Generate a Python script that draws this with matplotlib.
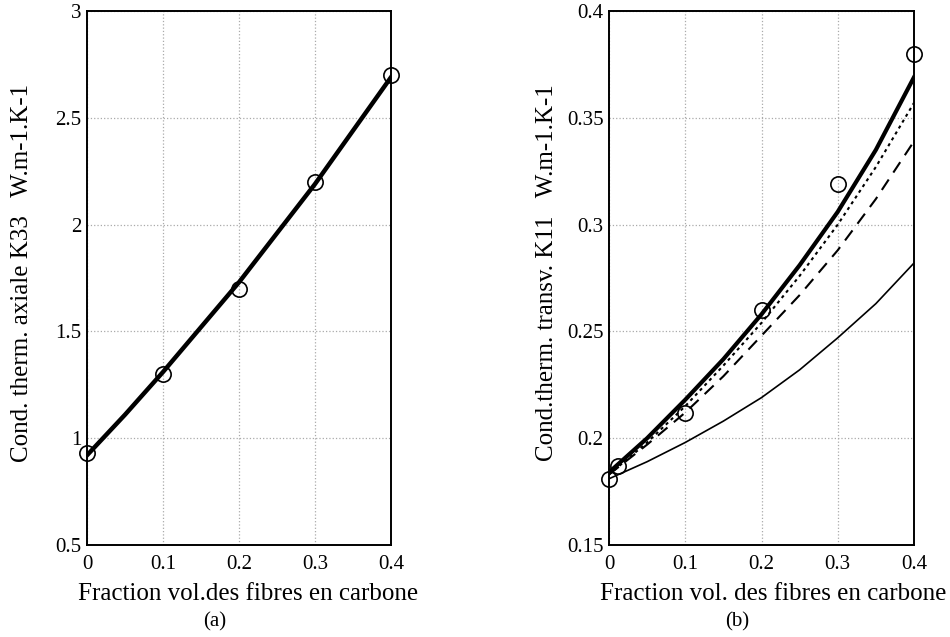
import numpy as np
import matplotlib.pyplot as plt

plt.rcParams['font.family'] = ['Liberation Serif', 'DejaVu Serif']

# panel (a): axial conductivity K33
xa_pts = [0.0, 0.1, 0.2, 0.3, 0.4]
ya_pts = [0.93, 1.30, 1.70, 2.20, 2.70]
xa_line = [0.0, 0.05, 0.1, 0.15, 0.2, 0.25, 0.3, 0.35, 0.4]
ya_line = [0.92, 1.11, 1.31, 1.52, 1.73, 1.96, 2.19, 2.44, 2.69]

# panel (b): transverse conductivity K11
xb_pts = [0.0, 0.012, 0.1, 0.2, 0.3, 0.4]
yb_pts = [0.181, 0.187, 0.212, 0.260, 0.319, 0.380]
xb_line = [0.0, 0.05, 0.1, 0.15, 0.2, 0.25, 0.3, 0.35, 0.4]
yb_thick = [0.184, 0.200, 0.218, 0.237, 0.258, 0.281, 0.306, 0.335, 0.369]
yb_dot = [0.183, 0.198, 0.215, 0.234, 0.254, 0.276, 0.300, 0.327, 0.357]
yb_dash = [0.183, 0.197, 0.212, 0.229, 0.248, 0.267, 0.288, 0.312, 0.339]
yb_thin = [0.181, 0.189, 0.198, 0.208, 0.219, 0.232, 0.247, 0.263, 0.282]

fig = plt.figure(figsize=(9.5, 6.37), dpi=100)
W, H = 950, 637
axa = fig.add_axes([87 / W, 1 - 545 / H, 304 / W, 534 / H])
axb = fig.add_axes([609 / W, 1 - 545 / H, 305 / W, 534 / H])

for ax in (axa, axb):
    ax.grid(True, color='#aaaaaa', linestyle=':', linewidth=0.9)
    ax.tick_params(length=0, labelsize=15)
    ax.tick_params(axis='x', pad=7)
    ax.tick_params(axis='y', pad=4)
    for s in ax.spines.values():
        s.set_linewidth(1.4)
    ax.set_xlim(0, 0.4)
    ax.set_xticks([0, 0.1, 0.2, 0.3, 0.4])
    ax.set_xticklabels(['0', '0.1', '0.2', '0.3', '0.4'])

axa.plot(xa_line, ya_line, color='black', linewidth=3.2)
axa.plot(xa_pts, ya_pts, 'o', mfc='none', mec='black', ms=11, mew=1.2, clip_on=False)
axa.set_ylim(0.5, 3)
axa.set_yticks([0.5, 1, 1.5, 2, 2.5, 3])
axa.set_yticklabels(['0.5', '1', '1.5', '2', '2.5', '3'])
axa.set_xlabel('Fraction vol.des fibres en carbone', fontsize=18, labelpad=7)
axa.set_ylabel('Cond. therm. axiale K33   W.m-1.K-1', fontsize=18, va='center')
axa.yaxis.set_label_coords(-0.214, 0.51)

axb.plot(xb_line, yb_thick, color='black', linewidth=3.0)
axb.plot(xb_line, yb_dot, color='black', linewidth=1.5, linestyle=(0, (1.5, 1.8)))
axb.plot(xb_line, yb_dash, color='black', linewidth=1.5, linestyle=(0, (6, 4)))
axb.plot(xb_line, yb_thin, color='black', linewidth=1.2)
axb.plot(xb_pts, yb_pts, 'o', mfc='none', mec='black', ms=11, mew=1.2, clip_on=False)
axb.set_ylim(0.15, 0.4)
axb.set_yticks([0.15, 0.2, 0.25, 0.3, 0.35, 0.4])
axb.set_yticklabels(['0.15', '0.2', '0.25', '0.3', '0.35', '0.4'])
axb.set_xlabel('Fraction vol. des fibres en carbone', fontsize=18, labelpad=7)
axb.set_ylabel('Cond.therm. transv. K11   W.m-1.K-1', fontsize=18, va='center')
axb.yaxis.set_label_coords(-0.203, 0.51)

# x labels sit a little right of centre in the original
axa.xaxis.label.set_x(0.53)
axb.xaxis.label.set_x(0.538)

fig.text(215 / W, 1 - 622 / H, '(a)', fontsize=15, ha='center', va='center')
fig.text(737 / W, 1 - 622 / H, '(b)', fontsize=15, ha='center', va='center')

fig.savefig('out.png', dpi=100)
